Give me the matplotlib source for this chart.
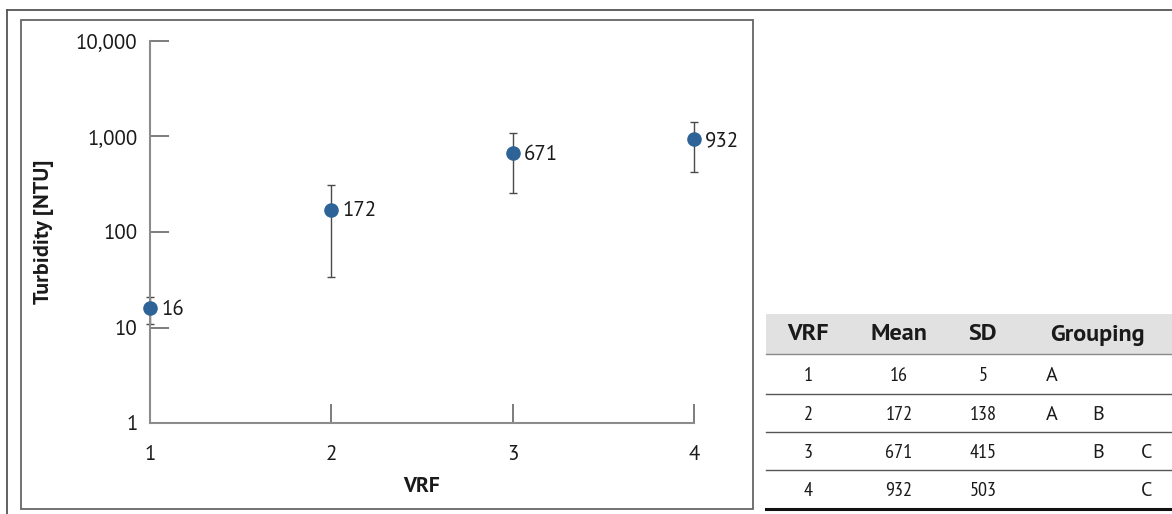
import matplotlib
matplotlib.use("Agg")
import matplotlib.pyplot as plt
from matplotlib.ticker import FixedLocator, FuncFormatter, NullLocator
from matplotlib.lines import Line2D
from matplotlib.patches import Rectangle

# ---- data -------------------------------------------------------------
vrf = [1, 2, 3, 4]
mean_ntu = [16, 172, 671, 932]
sd_ntu = [5, 138, 415, 503]
grouping = [["A", "", ""], ["A", "B", ""], ["", "B", "C"], ["", "", "C"]]
y_ticks = [1, 10, 100, 1000, 10000]
table_header = ["VRF", "Mean", "SD", "Grouping"]

# ---- styling ----------------------------------------------------------
W, H = 1172, 514
DPI = 100
main_font = ["PT Sans", "DejaVu Sans"]
narrow_font = ["PT Sans Narrow", "DejaVu Sans"]
point_color = "#2e6398"
spine_color = "#8c8c8c"
err_color = "#4a4a4a"
text_color = "#1a1a1a"

plt.rcParams["font.family"] = main_font

fig = plt.figure(figsize=(W / DPI, H / DPI), dpi=DPI)


def fx(px):
    return px / W


def fy(py):
    return 1 - py / H


# outer and inner frames
fig.add_artist(Line2D([fx(7), 1.0], [fy(9.5), fy(9.5)], color="#555555", lw=1.3))
fig.add_artist(Line2D([fx(7), fx(7)], [fy(9.5), 0.0], color="#555555", lw=1.3))
fig.add_artist(Rectangle((fx(21), fy(509)), fx(753) - fx(21), fy(20) - fy(509),
                         fill=False, edgecolor="#666666", lw=1.3))

# ---- scatter with error bars -----------------------------------------
ax = fig.add_axes([fx(150), fy(423), fx(694) - fx(150), fy(41) - fy(423)])
ax.set_yscale("log")
ax.set_xlim(1, 4)
ax.set_ylim(1, 10000)

ax.errorbar(vrf, mean_ntu, yerr=sd_ntu, fmt="none", ecolor=err_color,
            elinewidth=1.0, capsize=3.2, capthick=1.0, clip_on=False, zorder=2)
ax.plot(vrf, mean_ntu, "o", color=point_color, markersize=10.5,
        markeredgewidth=0, clip_on=False, zorder=3)
for x, m in zip(vrf, mean_ntu):
    ax.annotate(f"{m}", (x, m), xytext=(8, -1), textcoords="offset points",
                ha="left", va="center", fontsize=15, color=text_color,
                annotation_clip=False)

for side in ("top", "right"):
    ax.spines[side].set_visible(False)
for side in ("left", "bottom"):
    ax.spines[side].set_color(spine_color)
    ax.spines[side].set_linewidth(1.5)

ax.xaxis.set_major_locator(FixedLocator(vrf))
ax.yaxis.set_major_locator(FixedLocator(y_ticks))
ax.yaxis.set_minor_locator(NullLocator())
ax.yaxis.set_major_formatter(FuncFormatter(lambda v, p: f"{int(round(v)):,}"))
ax.tick_params(axis="both", which="major", direction="in", length=14,
               width=1.2, color="#666666", labelsize=15, labelcolor=text_color)
ax.tick_params(axis="y", pad=9)
ax.tick_params(axis="x", pad=16)

ax.set_xlabel("VRF", fontsize=15.5, fontweight="bold", color=text_color)
ax.xaxis.set_label_coords(0.5, (423 - 477) / 382)
ax.set_ylabel("Turbidity [NTU]", fontsize=16, fontweight="bold", color=text_color)
ax.yaxis.set_label_coords((54 - 150) / 544, 0.5)

# ---- summary table ----------------------------------------------------
tbl_left, tbl_right = 766, 1172
head_top, head_bot = 314, 354
row_edges = [354, 394, 432, 470, 509]
col_x = [808, 899, 983]
group_x = [1052, 1098, 1147]
group_head_x = 1097

fig.add_artist(Rectangle((fx(tbl_left), fy(head_bot)), fx(tbl_right) - fx(tbl_left),
                         fy(head_top) - fy(head_bot), facecolor="#e1e1e1",
                         edgecolor="none"))
fig.add_artist(Line2D([fx(tbl_left), fx(tbl_right)], [fy(head_bot), fy(head_bot)],
                      color="#8a8a8a", lw=1.0))
for yy in row_edges[1:-1]:
    fig.add_artist(Line2D([fx(tbl_left), fx(tbl_right)], [fy(yy), fy(yy)],
                          color="#555555", lw=1.0))
fig.add_artist(Line2D([fx(tbl_left), fx(tbl_right)], [fy(row_edges[-1]), fy(row_edges[-1])],
                      color="#111111", lw=2.2))

head_y = fy((head_top + head_bot) / 2 + 1)
for label, x in zip(table_header[:3], col_x):
    fig.text(fx(x), head_y, label, ha="center", va="center", fontsize=17.5,
             fontweight="bold", color=text_color)
fig.text(fx(group_head_x), head_y, table_header[3], ha="center", va="center",
         fontsize=17.5, fontweight="bold", color=text_color)

for i in range(len(vrf)):
    yc = fy((row_edges[i] + row_edges[i + 1]) / 2 + 2)
    for val, x in zip([vrf[i], mean_ntu[i], sd_ntu[i]], col_x):
        fig.text(fx(x), yc, f"{val}", ha="center", va="center", fontsize=14.5,
                 family=narrow_font, color=text_color)
    for g, x in zip(grouping[i], group_x):
        if g:
            fig.text(fx(x), yc, g, ha="center", va="center", fontsize=14.5,
                     family=main_font, color=text_color)

fig.savefig("out.png", dpi=DPI)
